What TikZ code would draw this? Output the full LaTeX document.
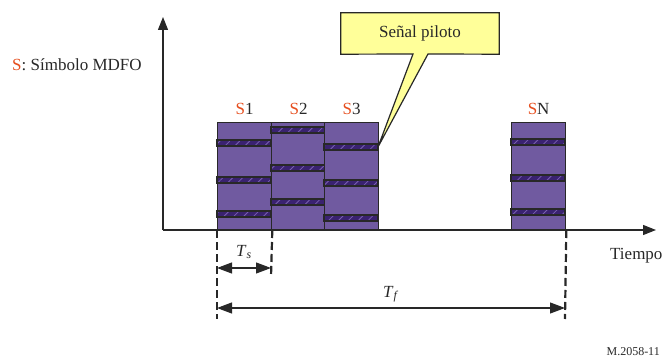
\documentclass[tikz,border=0pt]{standalone}
\usepackage{fontspec}
\setmainfont{Liberation Serif}
\usetikzlibrary{arrows.meta,patterns.meta,positioning}
\pgfdeclarelayer{background}
\pgfsetlayers{background,main}
\definecolor{ink}{RGB}{40,40,40}
\definecolor{symfill}{RGB}{112,90,160}
\definecolor{pilotfill}{RGB}{58,34,112}
\definecolor{pilothatch}{RGB}{120,95,175}
\definecolor{sred}{RGB}{230,78,30}
\definecolor{notefill}{RGB}{255,255,153}
\tikzstyle{symbol}=[draw=ink,fill=symfill,line width=1.3pt,minimum width=54pt,minimum height=107pt,inner sep=0pt]
\tikzstyle{pilot}=[preaction={fill=pilotfill},pattern={Lines[angle=45,distance=7pt,line width=0.8pt]},pattern color=pilothatch,draw=ink,line width=1.1pt]
\tikzstyle{axis}=[draw=ink,line width=1.1pt,-{Triangle[length=13pt,width=10pt]}]
\tikzstyle{marker}=[draw=ink,line width=2.2pt,dash pattern=on 8pt off 4pt]
\tikzstyle{span}=[draw=ink,line width=1.1pt,{Triangle[length=15pt,width=11pt]}-{Triangle[length=15pt,width=11pt]}]
\tikzstyle{tag}=[font=\fontsize{17}{20}\selectfont,text=ink,inner sep=0pt]
\tikzstyle{callout}=[draw=ink,fill=notefill,line width=1.2pt,line join=miter]

\begin{document}
\begin{tikzpicture}[x=1pt,y=-1pt]
	\useasboundingbox (0,0) rectangle (665,361);
	% First we draw the axes
	\coordinate (origin) at (163,230);
	\coordinate (ytop) at (163,17);
	\coordinate (xend) at (656,230);
	\draw[axis] (origin) -- (ytop);
	\draw[axis] (origin) -- (xend);

	% Symbols with their pilot bands
	\foreach \x/\name/\ya/\yb/\yc in {217/s1/143/180/214, 271/s2/130/168/202,
									  324/s3/147/183/218, 511/sN/142/178/212}
	{
		\node[symbol, anchor=south west] (\name) at (\x,230) {};
		\foreach \y in {\ya,\yb,\yc}
			\draw[pilot] (\x,\y-3) rectangle ++(54,6);
	}
	\foreach \name/\num in {s1/1, s2/2, s3/3, sN/N}
		\node[tag, anchor=base] (\name-lbl) at ([yshift=7pt]\name.north) {\textcolor{sred}{S}\num};

	% Legend and axis name
	\node[tag, anchor=base west] (legend) at (12,71) {\textcolor{sred}{S}: Símbolo MDFO};
	\node[tag, anchor=base west] (time) at (610,259) {Tiempo};

	% Callout for the pilot
	\node[tag, minimum width=158pt, minimum height=41pt] (note) at (420,33.5) {Señal piloto};
	\coordinate (tip) at (378,147);
	\coordinate (baseL) at (413,54);
	\coordinate (baseR) at (428,54);
	\begin{pgfonlayer}{background}
		\draw[callout] (note.north west) -- (note.north east) -- (note.south east) -- (baseR)
			-- (tip) -- (baseL) -- (note.south west) -- cycle;
	\end{pgfonlayer}

	% Durations
	\coordinate (frameL) at (217,319);
	\coordinate (frameR) at (565,319);
	\coordinate (symR) at (271,277);
	\draw[marker] (s1.south west) -- (frameL);
	\draw[marker] (s1.south east) -- (symR);
	\draw[marker] (sN.south east) -- (frameR);
	\coordinate (tsL) at (217,268);
	\coordinate (tsR) at (271,268);
	\coordinate (tfL) at (217,308);
	\coordinate (tfR) at (565,308);
	\draw[span] (tsL) -- node[tag, anchor=base, yshift=12pt] {\textit{T}\textsubscript{\textit{s}}} (tsR);
	\draw[span] (tfL) -- node[tag, anchor=base, yshift=11pt] {\textit{T}\textsubscript{\textit{f}}} (tfR);

	\node[tag, font=\fontsize{12}{14}\selectfont, anchor=base east] (ref) at (660,355) {M.2058-11};
\end{tikzpicture}
\end{document}
